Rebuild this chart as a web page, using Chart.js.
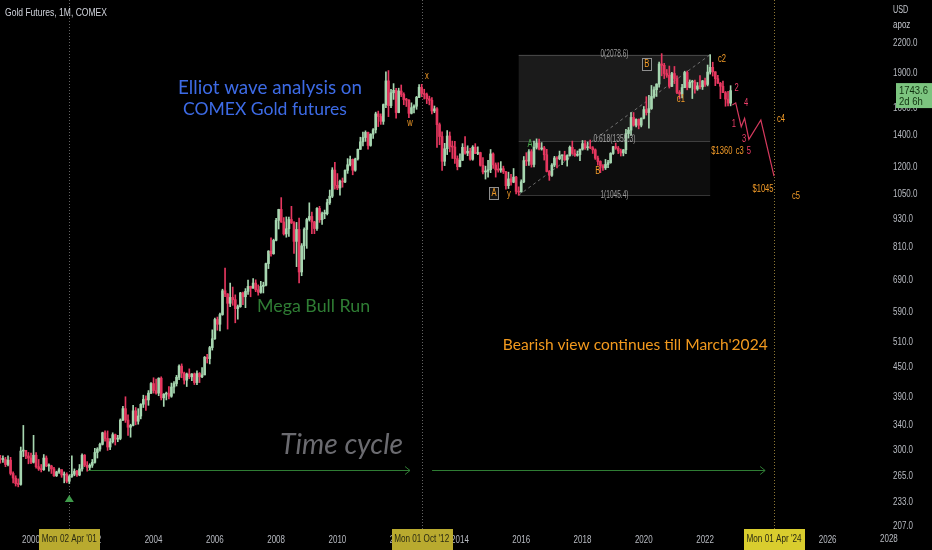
<!DOCTYPE html>
<html>
<head>
<meta charset="utf-8">
<script src="https://cdn.jsdelivr.net/npm/chart.js@4.4.1/dist/chart.umd.min.js"></script>
<style>
  html, body { margin: 0; padding: 0; background: #000; }
  #wrap { width: 932px; height: 550px; }
</style>
</head>
<body>
<div id="wrap"><canvas id="ctx" width="932" height="550"></canvas></div>
<script>
// monthly COMEX gold, Jan 1999 .. Nov 2022
const startYear = 1999;

const opens = [
  288, 287, 287, 280, 286, 268, 262, 255, 254, 299, 300, 292,          // 1999
  289, 283, 293, 277, 274, 273, 289, 278, 278, 274, 265, 270,          // 2000
  273, 266, 267, 258, 264, 267, 271, 266, 274, 293, 279, 276,          // 2001
  279, 283, 297, 302, 309, 327, 318, 305, 313, 324, 317, 318,          // 2002
  348, 368, 348, 336, 339, 364, 346, 355, 376, 385, 384, 397,          // 2003
  416, 402, 397, 427, 388, 395, 396, 391, 409, 416, 429, 453,          // 2004
  438, 423, 436, 430, 436, 418, 437, 430, 434, 473, 470, 496,          // 2005
  518, 569, 556, 583, 655, 645, 616, 634, 627, 600, 606, 648,          // 2006
  636, 653, 669, 663, 680, 658, 650, 669, 673, 748, 795, 785,          // 2007
  838, 924, 975, 917, 865, 887, 928, 913, 834, 884, 718, 816,          // 2008
  884, 928, 942, 917, 888, 980, 927, 955, 955, 1008, 1040, 1182,       // 2009
  1097, 1083, 1118, 1115, 1180, 1213, 1245, 1181, 1248, 1308, 1357, 1386, // 2010
  1421, 1333, 1409, 1439, 1556, 1536, 1500, 1628, 1828, 1620, 1725, 1746, // 2011
  1566, 1740, 1711, 1669, 1664, 1560, 1604, 1615, 1687, 1772, 1720, 1711, // 2012
  1675, 1663, 1578, 1595, 1476, 1393, 1234, 1312, 1396, 1327, 1323, 1250, // 2013
  1202, 1240, 1321, 1284, 1296, 1246, 1322, 1282, 1287, 1210, 1171, 1175, // 2014
  1184, 1279, 1212, 1183, 1182, 1190, 1172, 1095, 1132, 1114, 1142, 1065, // 2015
  1062, 1116, 1238, 1235, 1293, 1215, 1321, 1350, 1310, 1317, 1274, 1174, // 2016
  1152, 1211, 1254, 1249, 1268, 1268, 1242, 1269, 1321, 1283, 1270, 1275, // 2017
  1309, 1345, 1318, 1325, 1318, 1305, 1253, 1233, 1206, 1195, 1215, 1226, // 2018
  1282, 1325, 1316, 1298, 1285, 1305, 1413, 1437, 1529, 1472, 1514, 1472, // 2019
  1523, 1589, 1566, 1597, 1694, 1751, 1800, 1986, 1973, 1895, 1879, 1780, // 2020
  1895, 1850, 1728, 1715, 1769, 1905, 1771, 1817, 1818, 1757, 1784, 1776, // 2021
  1828, 1797, 1909, 1954, 1911, 1848, 1807, 1781, 1726, 1672, 1640        // 2022
];

const highs = [
  293, 292, 290, 292, 290, 270, 265, 261, 305, 339, 300, 297,
  296, 323, 297, 287, 280, 294, 292, 281, 279, 276, 271, 275,
  273, 270, 269, 266, 292, 274, 272, 280, 295, 294, 284, 281,
  287, 303, 304, 311, 328, 330, 330, 318, 327, 325, 323, 350,
  372, 390, 357, 341, 374, 370, 368, 377, 393, 392, 402, 418,
  428, 425, 428, 430, 396, 399, 410, 417, 420, 433, 456, 458,
  440, 438, 447, 437, 438, 443, 439, 450, 475, 480, 499, 541,
  573, 576, 587, 660, 732, 646, 680, 667, 642, 611, 650, 651,
  662, 690, 670, 695, 691, 674, 686, 683, 750, 797, 849, 843,
  934, 976, 1033, 937, 940, 939, 990, 919, 915, 935, 825, 891,
  934, 1007, 962, 920, 984, 990, 962, 972, 1025, 1072, 1196, 1227,
  1162, 1126, 1137, 1183, 1250, 1266, 1248, 1253, 1310, 1388, 1424, 1432,
  1424, 1412, 1448, 1569, 1577, 1556, 1633, 1911, 1923, 1755, 1804, 1764,
  1764, 1792, 1725, 1679, 1668, 1642, 1627, 1695, 1795, 1798, 1755, 1723,
  1697, 1684, 1617, 1605, 1488, 1425, 1347, 1434, 1424, 1362, 1361, 1267,
  1280, 1345, 1392, 1331, 1315, 1332, 1345, 1324, 1290, 1256, 1205, 1240,
  1307, 1286, 1224, 1225, 1232, 1205, 1175, 1170, 1157, 1191, 1146, 1089,
  1127, 1263, 1287, 1306, 1306, 1362, 1377, 1375, 1352, 1327, 1308, 1180,
  1220, 1264, 1262, 1297, 1272, 1296, 1274, 1330, 1362, 1306, 1298, 1310,
  1366, 1365, 1356, 1369, 1326, 1311, 1265, 1237, 1214, 1245, 1240, 1287,
  1327, 1349, 1327, 1310, 1307, 1442, 1456, 1566, 1566, 1519, 1518, 1526,
  1613, 1692, 1704, 1788, 1775, 1803, 2005, 2089, 1992, 1933, 1966, 1907,
  1962, 1875, 1744, 1797, 1917, 1919, 1837, 1834, 1836, 1814, 1877, 1833,
  1854, 1976, 2078.8, 2003, 1913, 1879, 1815, 1826, 1736, 1738, 1786
];

const lows = [
  282, 283, 277, 278, 266, 256, 252, 251, 253, 291, 288, 281,
  281, 282, 275, 272, 270, 272, 277, 271, 268, 264, 264, 268,
  263, 256, 256, 255, 263, 265, 264, 265, 271, 277, 271, 272,
  276, 282, 289, 299, 308, 314, 300, 301, 311, 308, 313, 316,
  347, 344, 323, 320, 338, 340, 341, 350, 370, 365, 374, 396,
  397, 395, 392, 384, 372, 384, 386, 389, 397, 411, 424, 428,
  415, 410, 426, 422, 414, 414, 418, 428, 434, 460, 458, 490,
  516, 540, 538, 581, 636, 543, 606, 610, 560, 570, 604, 612,
  603, 643, 636, 663, 652, 641, 647, 648, 671, 730, 776, 783,
  836, 886, 915, 860, 851, 854, 910, 786, 737, 681, 705, 764,
  806, 921, 866, 866, 880, 915, 906, 932, 949, 999, 1033, 1076,
  1074, 1045, 1087, 1111, 1163, 1206, 1155, 1175, 1241, 1307, 1330, 1360,
  1309, 1328, 1380, 1417, 1462, 1478, 1478, 1603, 1535, 1603, 1670, 1523,
  1564, 1693, 1627, 1613, 1527, 1555, 1564, 1591, 1684, 1692, 1673, 1636,
  1626, 1555, 1565, 1321, 1338, 1180, 1208, 1275, 1292, 1251, 1221, 1183,
  1201, 1238, 1277, 1268, 1240, 1240, 1281, 1274, 1205, 1160, 1131, 1142,
  1167, 1191, 1142, 1170, 1169, 1162, 1077, 1080, 1098, 1111, 1052, 1045,
  1061, 1111, 1208, 1209, 1199, 1200, 1310, 1305, 1303, 1241, 1171, 1124,
  1146, 1201, 1195, 1243, 1214, 1239, 1205, 1265, 1276, 1263, 1265, 1238,
  1303, 1307, 1303, 1312, 1282, 1245, 1211, 1167, 1180, 1185, 1196, 1222,
  1276, 1308, 1281, 1266, 1267, 1280, 1382, 1400, 1465, 1459, 1446, 1460,
  1518, 1547, 1450, 1590, 1680, 1694, 1774, 1874, 1849, 1860, 1765, 1777,
  1804, 1717, 1673, 1682, 1768, 1750, 1767, 1677, 1721, 1746, 1758, 1753,
  1780, 1784, 1890, 1872, 1786, 1805, 1676, 1727, 1615, 1618, 1618
];

const closes = [
  287, 287, 280, 286, 268, 262, 255, 254, 299, 300, 292, 289,
  283, 293, 277, 274, 273, 289, 278, 278, 274, 265, 270, 273,
  266, 267, 258, 264, 267, 271, 266, 274, 293, 279, 276, 279,
  283, 297, 302, 309, 327, 318, 305, 313, 324, 317, 318, 348,
  368, 348, 336, 339, 364, 346, 355, 376, 385, 384, 397, 416,
  402, 397, 427, 388, 395, 396, 391, 409, 416, 429, 453, 438,
  423, 436, 430, 436, 418, 437, 430, 434, 473, 470, 496, 518,
  569, 556, 583, 655, 645, 616, 634, 627, 600, 606, 648, 636,
  653, 669, 663, 680, 658, 650, 669, 673, 748, 795, 785, 838,
  924, 975, 917, 865, 887, 928, 913, 834, 884, 718, 816, 884,
  928, 942, 917, 888, 980, 927, 955, 955, 1008, 1040, 1182, 1097,
  1083, 1118, 1115, 1180, 1213, 1245, 1181, 1248, 1308, 1357, 1386, 1421,
  1333, 1409, 1439, 1556, 1536, 1500, 1628, 1828, 1620, 1725, 1746, 1566,
  1740, 1711, 1669, 1664, 1560, 1604, 1615, 1687, 1772, 1720, 1711, 1675,
  1663, 1578, 1595, 1476, 1393, 1234, 1312, 1396, 1327, 1323, 1250, 1202,
  1240, 1321, 1284, 1296, 1246, 1322, 1282, 1287, 1210, 1171, 1175, 1184,
  1279, 1212, 1183, 1182, 1190, 1172, 1095, 1132, 1114, 1142, 1065, 1061,
  1116, 1238, 1235, 1293, 1215, 1321, 1350, 1310, 1317, 1274, 1174, 1152,
  1211, 1254, 1249, 1268, 1268, 1242, 1269, 1321, 1283, 1270, 1275, 1309,
  1345, 1318, 1325, 1318, 1305, 1253, 1233, 1206, 1195, 1215, 1226, 1282,
  1325, 1316, 1298, 1285, 1305, 1413, 1437, 1529, 1472, 1514, 1472, 1523,
  1589, 1566, 1597, 1694, 1751, 1800, 1986, 1973, 1895, 1879, 1780, 1895,
  1850, 1728, 1715, 1769, 1905, 1771, 1817, 1818, 1757, 1784, 1776, 1828,
  1797, 1909, 1954, 1911, 1848, 1807, 1781, 1726, 1672, 1640, 1743.6
];

const lastPrice = 1743.6;
const lastTimer = '2d 6h';

const yTicks = [207, 233, 265, 300, 340, 390, 450, 510, 590, 690, 810, 930, 1050, 1200, 1400, 1600, 1900, 2200];
const xTicks = [2000, 2002, 2004, 2006, 2008, 2010, 2012, 2014, 2016, 2018, 2020, 2022, 2024, 2026];

// drawn wave projection after the last candle
const projYears  = [2022.89, 2023.0, 2023.18, 2023.29, 2023.43, 2023.82, 2024.25];
const projPrices = [1624, 1642, 1461, 1522, 1373, 1510, 1148];

// fib retracement (log) from the Dec 2015 low to the Mar 2022 high
const fibFrom = 2015.917;
const fibTo = 2022.167;
const fibLevels = [2078.6, 1359.3, 1045.4];
const fibLabels = ['0(2078.6)', '0.618(1359.3)', '1(1045.4)'];

// wave labels: [text, year, price, kind]
const waveLabels = [
  ['x', 2012.92, 1873, 'o'],
  ['w', 2012.37, 1488, 'o'],
  ['A', 2015.11, 1054, 'box'],
  ['y', 2015.60, 1049, 'o'],
  ['A', 2016.29, 1339, 'g'],
  ['B', 2018.50, 1176, 'o'],
  ['B', 2020.10, 1985, 'box'],
  ['c1', 2021.21, 1673, 'o'],
  ['c2', 2022.55, 2035, 'o'],
  ['2', 2023.03, 1762, 'p'],
  ['4', 2023.34, 1642, 'p'],
  ['1', 2022.94, 1480, 'p'],
  ['3', 2023.27, 1373, 'p'],
  ['5', 2023.43, 1298, 'p'],
  ['c3', 2023.13, 1298, 'o'],
  ['$1360', 2022.55, 1296, 'o'],
  ['c4', 2024.48, 1517, 'o'],
  ['$1045', 2023.89, 1077, 'o'],
  ['c5', 2024.97, 1041, 'o']
];

// cursor markers on the time axis: [year, text, fill]
const timeMarks = [
  [2001.25, "Mon 02 Apr '01", '#b9aa2f'],
  [2012.75, "Mon 01 Oct '12", '#b9aa2f'],
  [2024.25, "Mon 01 Apr '24", '#d9cd2e']
];

const cycleArrows = [[2001.86, 2012.37], [2013.09, 2023.96]];
const cyclePrice = 272.6;

// free text: [text, year, price, color, style, width in px]
const notes = [
  ['Elliot wave analysis on', 2004.80, 1765, '#3d6be6', 'normal', 184],
  ['COMEX Gold futures', 2004.96, 1593, '#3d6be6', 'normal', 164],
  ['Mega Bull Run', 2007.38, 608, '#2f7d34', 'normal', 113],
  ["Bearish view continues till March'2024", 2015.40, 502, '#f39a1e', 'normal', 265],
  ['Time cycle', 2008.13, 307.7, '#6b6b70', 'italic', 123]
];

const upColor = '#a6d6b0';
const downColor = '#e5375f';
const uiFont = '"Liberation Sans", Arial, sans-serif';
const noteFont = 'Lato, "Open Sans", sans-serif';
const squeeze = 0.8;

const xs = closes.map((c, i) => startYear + i / 12);
const candleColors = closes.map((c, i) => (c >= opens[i] ? upColor : downColor));

function fitFont(ctx, text, style, family, width) {
  ctx.font = style + ' 100px ' + family;
  const w = ctx.measureText(text).width;
  ctx.font = style + ' ' + (100 * width / w).toFixed(2) + 'px ' + family;
}

// narrow ui text: horizontal squeeze k, or fitted to a width
function uiText(c, text, x, y, size, align, k, width) {
  c.save();
  c.font = size + 'px ' + uiFont;
  if (width) k = width / c.measureText(text).width;
  c.translate(x, y);
  c.scale(k, 1);
  c.textAlign = align;
  c.textBaseline = 'middle';
  c.fillText(text, 0, 0);
  c.restore();
  return k;
}

function narrowLabels(scale) {
  if (scale._narrow || typeof scale.getLabelItems !== 'function') return;
  scale.drawLabels = function (area) {
    const c = this.ctx;
    this.getLabelItems(area).forEach((it) => {
      const o = it.options;
      c.save();
      c.font = it.font.string;
      c.fillStyle = o.color;
      c.textAlign = o.textAlign;
      c.textBaseline = o.textBaseline;
      c.translate(o.translation[0], o.translation[1]);
      c.scale(squeeze, 1);
      const lines = Array.isArray(it.label) ? it.label : [it.label];
      c.fillText(String(lines[0]), 0, it.textOffset);
      c.restore();
    });
  };
  scale._narrow = true;
}

const overlay = {
  id: 'overlay',
  beforeDraw(chart) {
    const c = chart.ctx;
    c.save();
    c.fillStyle = '#000';
    c.fillRect(0, 0, chart.width, chart.height);
    c.restore();
    narrowLabels(chart.scales.x);
    narrowLabels(chart.scales.y);
  },
  beforeDatasetsDraw(chart) {
    const c = chart.ctx, sx = chart.scales.x, sy = chart.scales.y, a = chart.chartArea;
    const x0 = sx.getPixelForValue(fibFrom), x1 = sx.getPixelForValue(fibTo);
    const yl = fibLevels.map(v => sy.getPixelForValue(v));
    c.save();
    c.fillStyle = 'rgba(255,255,255,0.105)';
    c.fillRect(x0, yl[0], x1 - x0, yl[1] - yl[0]);
    c.fillStyle = 'rgba(255,255,255,0.05)';
    c.fillRect(x0, yl[1], x1 - x0, yl[2] - yl[1]);
    c.strokeStyle = 'rgba(150,150,150,0.35)';
    c.lineWidth = 1;
    yl.forEach(y => {
      c.beginPath(); c.moveTo(x0, Math.round(y) + 0.5); c.lineTo(x1, Math.round(y) + 0.5); c.stroke();
    });
    c.setLineDash([3, 3]);
    c.strokeStyle = 'rgba(170,170,170,0.6)';
    c.beginPath(); c.moveTo(x0, yl[2]); c.lineTo(x1, yl[0]); c.stroke();

    // vertical cursor lines
    c.setLineDash([1, 2]);
    timeMarks.forEach((m, i) => {
      const x = Math.round(sx.getPixelForValue(m[0])) + 0.5;
      c.strokeStyle = i === 2 ? 'rgba(190,160,70,0.75)' : 'rgba(140,140,140,0.7)';
      c.beginPath(); c.moveTo(x, a.top); c.lineTo(x, a.bottom); c.stroke();
    });
    c.restore();
  },
  afterDatasetsDraw(chart) {
    const c = chart.ctx, sx = chart.scales.x, sy = chart.scales.y;
    const x0 = sx.getPixelForValue(fibFrom), x1 = sx.getPixelForValue(fibTo);
    const fibWidths = [28, 42, 28];
    c.save();
    c.fillStyle = 'rgba(180,180,180,0.85)';
    fibLabels.forEach((t, i) => {
      const y = sy.getPixelForValue(fibLevels[i]) - (i === 1 ? 2 : 0);
      uiText(c, t, (x0 + x1) / 2, y, 10, 'center', 1, fibWidths[i]);
    });

    // wave labels
    waveLabels.forEach(([t, yr, p, kind]) => {
      const x = sx.getPixelForValue(yr), y = sy.getPixelForValue(p);
      if (kind === 'box') {
        c.fillStyle = '#121212';
        c.fillRect(x - 4.5, y - 6, 9, 12);
        c.strokeStyle = '#8f8f8f';
        c.lineWidth = 1;
        c.strokeRect(Math.round(x - 4.5) + 0.5, Math.round(y - 6) + 0.5, 9, 12);
      }
      c.fillStyle = kind === 'p' ? '#ef3f6a' : kind === 'g' ? '#4caf50' : '#f29b28';
      uiText(c, t, x, y, 10, 'center', 0.76);
    });

    // time cycle arrows
    const ya = Math.round(sy.getPixelForValue(cyclePrice)) + 0.5;
    c.strokeStyle = '#2f7d34';
    c.lineWidth = 1;
    cycleArrows.forEach(([a, b]) => {
      const xa = sx.getPixelForValue(a), xb = sx.getPixelForValue(b);
      c.beginPath(); c.moveTo(xa, ya); c.lineTo(xb, ya); c.stroke();
      c.beginPath(); c.moveTo(xb - 5, ya - 4); c.lineTo(xb, ya); c.lineTo(xb - 5, ya + 4); c.stroke();
    });

    // low marker
    const tx = sx.getPixelForValue(timeMarks[0][0]), ty = sy.getPixelForValue(236.6);
    c.fillStyle = '#3f9b4b';
    c.beginPath(); c.moveTo(tx, ty - 4); c.lineTo(tx + 4.5, ty + 3); c.lineTo(tx - 4.5, ty + 3); c.closePath(); c.fill();

    // free text
    c.textAlign = 'left';
    c.textBaseline = 'middle';
    notes.forEach(([t, yr, p, col, style, w]) => {
      fitFont(c, t, style, noteFont, w);
      c.fillStyle = col;
      c.fillText(t, sx.getPixelForValue(yr), sy.getPixelForValue(p));
    });
    c.restore();
  },
  afterDraw(chart) {
    const c = chart.ctx, sx = chart.scales.x, sy = chart.scales.y, a = chart.chartArea;
    c.save();
    c.fillStyle = '#d1d4dc';
    uiText(c, 'Gold Futures, 1M, COMEX', 5, 13, 10.5, 'left', 1, 102);

    c.fillStyle = '#c3c6cc';
    uiText(c, 'USD', a.right + 9, 10, 10, 'left', 0.72);
    uiText(c, 'apoz', a.right + 9, 25, 10, 'left', 0.8);

    // half hidden 2028 label under the price scale
    c.save();
    c.beginPath(); c.rect(0, a.bottom, a.right + 14, chart.height - a.bottom); c.clip();
    c.fillStyle = '#b8bbc2';
    uiText(c, '2028', sx.getPixelForValue(2028), a.bottom + 10.5, 10, 'center', squeeze);
    c.restore();

    // last price tag
    const py = sy.getPixelForValue(lastPrice);
    c.fillStyle = '#7cc47f';
    c.fillRect(a.right + 12, py - 7.5, 36, 25);
    c.fillStyle = '#10320f';
    const k = uiText(c, lastPrice.toFixed(1), a.right + 15, py + 0.5, 11, 'left', 1, 29);
    uiText(c, lastTimer, a.right + 15, py + 11.5, 11, 'left', k);

    // time axis cursor labels
    timeMarks.forEach(([yr, t, fill]) => {
      const x = sx.getPixelForValue(yr);
      c.fillStyle = fill;
      c.fillRect(Math.round(x - 30), a.bottom, 61, chart.height - a.bottom);
      c.fillStyle = '#2a2a12';
      uiText(c, t, x, a.bottom + 10.5, 10.5, 'center', 1, 55);
    });
    c.restore();
  }
};

const ctx = document.getElementById('ctx');

const config = {
  type: 'bar',
  data: {
    datasets: [
      {
        type: 'line',
        label: 'projection',
        data: projYears.map((x, i) => ({ x: x, y: projPrices[i] })),
        borderColor: '#d63a5e',
        borderWidth: 1.2,
        pointRadius: 0,
        tension: 0,
        order: 0
      },
      {
        label: 'body',
        data: xs.map((x, i) => ({ x: x, y: [opens[i], closes[i]] })),
        backgroundColor: candleColors,
        barThickness: 2,
        minBarLength: 1,
        borderWidth: 0,
        borderSkipped: false,
        grouped: false,
        order: 1
      },
      {
        label: 'wick',
        data: xs.map((x, i) => ({ x: x, y: [lows[i], highs[i]] })),
        backgroundColor: candleColors,
        barThickness: 1,
        borderWidth: 0,
        borderSkipped: false,
        grouped: false,
        order: 2
      }
    ]
  },
  options: {
    responsive: false,
    animation: false,
    devicePixelRatio: 1,
    layout: { padding: 0 },
    plugins: {
      legend: { display: false },
      tooltip: { enabled: false },
      title: { display: false }
    },
    scales: {
      x: {
        type: 'linear',
        min: 2000 - 31 / 30.64,
        max: 2000 + (884 - 31) / 30.64,
        offset: false,
        grid: { display: false, drawTicks: false },
        border: { display: false },
        ticks: {
          color: '#b8bbc2',
          font: { family: uiFont, size: 10 },
          padding: 5,
          maxRotation: 0,
          autoSkip: false,
          callback: (v) => String(v)
        },
        afterBuildTicks: (s) => { s.ticks = xTicks.map(v => ({ value: v })); },
        afterFit: (s) => { s.height = 21; s.paddingLeft = 0; s.paddingRight = 0; }
      },
      y: {
        type: 'logarithmic',
        position: 'right',
        min: 204.25,
        max: 2715.6,
        grid: { display: false, drawTicks: false },
        border: { display: false },
        ticks: {
          color: '#b8bbc2',
          font: { family: uiFont, size: 10 },
          padding: 9,
          autoSkip: false,
          callback: (v) => Number(v).toFixed(1)
        },
        afterBuildTicks: (s) => { s.ticks = yTicks.map(v => ({ value: v })); },
        afterFit: (s) => { s.width = 48; s.paddingTop = 0; s.paddingBottom = 0; }
      }
    }
  },
  plugins: [overlay]
};

var myChart = new Chart(ctx, config);
</script>
</body>
</html>
